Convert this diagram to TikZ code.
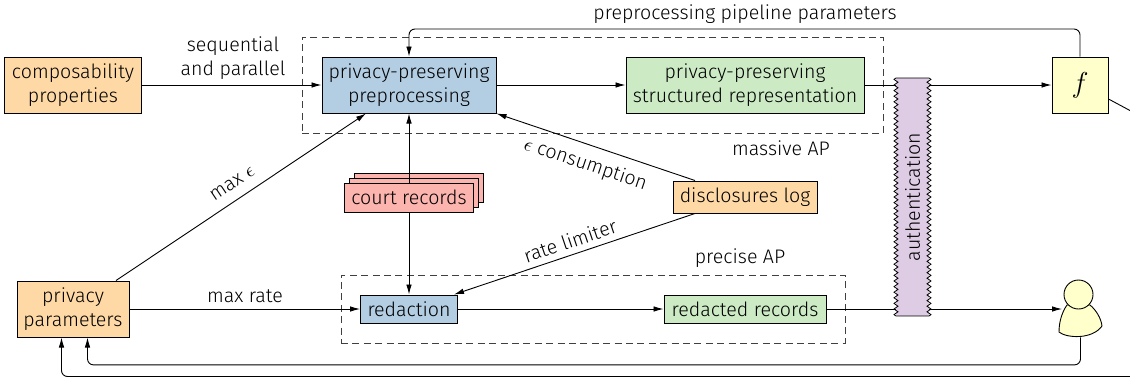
\documentclass[tikz,border=0pt]{standalone}
\usepackage{fontspec}
\setmainfont{Fira Sans Light}
\usepackage{xcolor}
\usetikzlibrary{calc,shapes,shadows,arrows.meta,decorations.pathmorphing}

\definecolor{pastelred}{HTML}{FBB4AE}
\definecolor{pastelblue}{HTML}{B3CDE3}
\definecolor{pastelgreen}{HTML}{CCEBC5}
\definecolor{pastelpurple}{HTML}{DECBE4}
\definecolor{pastelorange}{HTML}{FED9A6}
\definecolor{pastelyellow}{HTML}{FFFFCC}

\begin{document}
\begin{tikzpicture}[x=0.5pt,y=-0.5pt,
box/.style={draw,font=\fontsize{9.8}{12}\selectfont,align=center,inner sep=0,line width=0.5pt},
source/.style={box,fill=pastelorange},
proc/.style={box,fill=pastelblue},
result/.style={box,fill=pastelgreen},
area/.style={draw=black!75,dash pattern=on 3.5pt off 2.2pt,line width=0.4pt,inner sep=0},
link/.style={-{Latex[length=5pt,width=2.8pt]},line width=0.45pt},
msg/.style={font=\fontsize{9.8}{12}\selectfont,align=center,inner sep=0}]
	\path[use as bounding box,clip] (0,0) rectangle (1130,380);
	\def\xx{43}
	\def\hh{28pt}

	\node[area,minimum width=290.5pt,minimum height=48pt] at (592.5,85) (massive) {};
	\node[area,minimum width=252pt,minimum height=34pt] at (593,309) (precise) {};

	\node[source,minimum width=68.5pt,minimum height=\hh] at (73,85) (comp) {composability\\properties};
	\node[proc,minimum width=87pt,minimum height=\hh] at (409,85) (prep) {privacy-preserving\\preprocessing};
	\node[result,minimum width=119pt,minimum height=\hh] at (745,85) (struct) {privacy-preserving\\structured representation};
	\node[box,fill=pastelyellow,minimum width=28pt,minimum height=\hh] at (1080,85) (func) {\Large $f$};
	\node[source,minimum width=72pt,minimum height=16pt] at (745,197) (log) {disclosures log};
	\node[box,fill=pastelred,minimum width=64.5pt,minimum height=14.5pt,
		double copy shadow={shadow xshift=2.5pt,shadow yshift=2.5pt}] at (409,197.5) (court) {court records};
	\node[source,minimum width=56pt,minimum height=\hh] at (73,309) (param) {privacy\\parameters};
	\node[proc,minimum width=48.5pt,minimum height=14pt] at (409,309) (redact) {redaction};
	\node[result,minimum width=81pt,minimum height=14pt] at (745,309) (redacted) {redacted records};
	\node[inner sep=0,minimum width=21.5pt,minimum height=16pt] at (1080.5,321) (user) {};
	\coordinate (userin) at (1062,309);
	\coordinate (offright) at (1170,132);

	%top row
	\draw[link] (comp) -- (prep);
	\draw[link] (prep) -- (struct);
	\draw[link] (struct) -- (func);
	\draw[link,rounded corners=3pt] (func.north) -- ++(0,-27.5) -| (prep.north);
	%records
	\draw[link] (court) -- (prep);
	\draw[link] (court) -- (redact);
	%limits
	\draw[link] ($(param.north)+(\xx,0)$) -- node[msg,pos=0.5,sloped,above=5pt] (maxeps) {max $\epsilon$} ($(prep.south)+(-\xx,0)$);
	\draw[link] ($(log.north)+(-50,0)$) -- node[msg,pos=0.52,sloped,below=5pt] (consum) {$\epsilon$ consumption} (prep.south east);
	\draw[link] ($(log.south)+(-50,0)$) -- node[msg,pos=0.5,sloped,above=3pt] (limiter) {rate limiter} ($(redact.north east)+(-4,0)$);
	%bottom row
	\draw[link] (param) -- (redact);
	\draw[link] (redact) -- (redacted);
	\draw[link] (redacted) -- (userin);
	%feedback
	\draw[link,rounded corners=3pt] (user.south) -- ++(0,27.5) -| ($(param.south)+(14.5,0)$);
	\draw[link,rounded corners=3pt] (func.east |- 0,99) -- (offright) |- ($(param.south)+(-11.5,39)$) -- ($(param.south)+(-11.5,0)$);

	%authentication layer
	\path[fill=pastelpurple] (896,78) rectangle (929,316);
	\draw[line width=0.4pt,decoration={zigzag,segment length=2.8pt,amplitude=1pt}]
		(896,78) -- (929,78)
		decorate {-- (929,316)} -- (896,316) decorate {-- (896,78)};
	\node[msg,rotate=90] at (912.5,197) (auth) {authentication};

	%user figure
	\draw[fill=pastelyellow,line width=0.45pt] (1067,305) .. controls (1062,312) and (1059,322) .. (1059,332)
		.. controls (1066,338) and (1092,340) .. (1102,326)
		.. controls (1101,318) and (1096,310) .. (1090,305) -- cycle;
	\node[draw,circle,fill=pastelyellow,minimum size=14.5pt,inner sep=0,line width=0.45pt] at (1078.5,294.5) (head) {};

	\node[msg] at (233,58) (seq) {sequential\\and parallel};
	\node[msg] at (745,14) (pipe) {preprocessing pipeline parameters};
	\node[msg] at (781,148) (mass) {massive AP};
	\node[msg] at (740,258) (prec) {precise AP};
	\node[msg] at (245,296) (rate) {max rate};
\end{tikzpicture}
\end{document}
